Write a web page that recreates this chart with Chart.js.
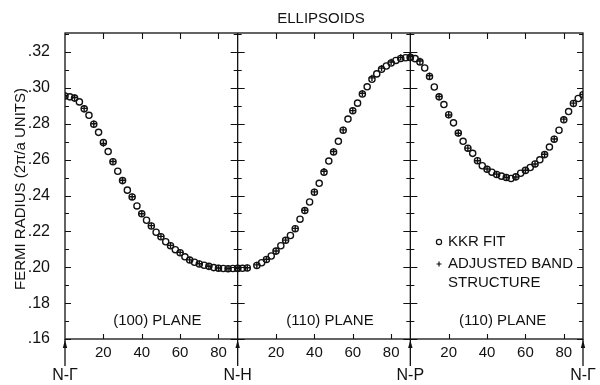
<!DOCTYPE html>
<html>
<head>
<meta charset="utf-8">
<title>Ellipsoids – Fermi radius</title>
<script src="https://cdn.jsdelivr.net/npm/chart.js@4"></script>
<style>
  html, body { margin: 0; padding: 0; background: #fff; }
  #wrap { width: 600px; height: 385px; }
</style>
</head>
<body>
<div id="wrap"><canvas id="c" width="600" height="385"></canvas></div>
<script>
// Angle (degrees) within each symmetry plane for the KKR-fit points
const kkrAngles = [0, 2.5, 5, 7.5, 10, 12.5, 15, 17.5, 20, 22.5, 25, 27.5, 30, 32.5, 35, 37.5,
  40, 42.5, 45, 47.5, 50, 52.5, 55, 57.5, 60, 62.5, 65, 67.5, 70, 72.5, 75, 77.5, 80, 82.5, 85, 87.5, 90];

// KKR fit: (100) plane, N-Γ to N-H
const kkr100 = [.2955, .2950, .2943, .2922, .2883, .2847, .2797, .2752, .2695, .2645, .2588, .2535,
  .2483, .2430, .2392, .2342, .2298, .2262, .2230, .2195, .2170, .2142, .2120, .2098, .2081, .2058,
  .2040, .2028, .2018, .2011, .2005, .1998, .1995, .1993, .1992, .1993, .1994];

// KKR fit: (110) plane, N-H to N-P (one point missing near 7.5°)
const kkr110a = [.1993, .1994, .1996, null, .2010, .2025, .2043, .2063, .2090, .2120, .2150, .2177,
  .2215, .2268, .2316, .2364, .2418, .2468, .2530, .2592, .2643, .2702, .2764, .2826, .2872, .2915,
  .2966, .3006, .3048, .3078, .3104, .3122, .3139, .3153, .3164, .3168, .3170];

// KKR fit: (110) plane, N-P to N-Γ
const kkr110b = [.3169, .3163, .3145, .3111, .3064, .3005, .2950, .2907, .2850, .2805, .2748, .2702,
  .2664, .2635, .2594, .2566, .2546, .2530, .2517, .2508, .2500, .2495, .2504, .2524, .2540, .2556,
  .2576, .2599, .2628, .2670, .2714, .2764, .2822, .2868, .2913, .2941, .2962];

// Angles for the adjusted band-structure points
const bandAngles = [0, 5, 10, 15, 20, 25, 30, 35, 40, 45, 50, 55, 60, 65, 70, 75, 80, 85, 90];
const band100 = [.2957, .2946, .2886, .2800, .2690, .2590, .2485, .2393, .2298, .2232, .2172,
  .2122, .2083, .2041, .2020, .2006, .1996, .1993, .1994];
const band110a = [.1994, .1997, .2013, .2045, .2091, .2151, .2217, .2318, .2420, .2535, .2645,
  .2766, .2873, .2970, .3056, .3110, .3144, .3170, .3177];
const band110b = [.3176, .3150, .3068, .2952, .2849, .2747, .2664, .2594, .2548, .2519, .2501,
  .2503, .2541, .2576, .2630, .2715, .2826, .2915, .2963];

// Axis annotations
const panelWidth = 90;
const xTickAngles = [20, 40, 60, 80];
const yTicks = [.16, .18, .20, .22, .24, .26, .28, .30, .32];
const symmetryPoints = ['N-Γ', 'N-H', 'N-P', 'N-Γ'];
const planeNames = ['(100) PLANE', '(110) PLANE', '(110) PLANE'];

const FONT = '"Liberation Sans", Arial, sans-serif';
const INK = '#111';

function toPoints(angles, values, panel) {
  const out = [];
  angles.forEach((a, i) => {
    if (values[i] !== null) out.push({ x: panel * panelWidth + a, y: values[i] });
  });
  return out;
}

const kkrData = [].concat(
  toPoints(kkrAngles, kkr100, 0),
  toPoints(kkrAngles, kkr110a, 1),
  toPoints(kkrAngles, kkr110b, 2)
);
const bandData = [].concat(
  toPoints(bandAngles, band100, 0),
  toPoints(bandAngles, band110a, 1),
  toPoints(bandAngles, band110b, 2)
);

// Frame, inward ticks, panel dividers, arrows and all annotation text
const decor = {
  id: 'decor',
  beforeDatasetsDraw(chart) {
    const { ctx, chartArea: a, scales: { x, y } } = chart;
    ctx.save();
    ctx.strokeStyle = INK;
    ctx.lineWidth = 1.3;
    ctx.strokeRect(a.left, a.top, a.right - a.left, a.bottom - a.top);

    ctx.lineWidth = 1.1;
    ctx.beginPath();
    // left / right inward ticks every .01
    for (let i = 16; i <= 33; i++) {
      const py = Math.round(y.getPixelForValue(i / 100)) + 0.5;
      if (py < a.top + 1) continue;
      const len = i % 2 === 0 ? 6 : 4;
      ctx.moveTo(a.left, py); ctx.lineTo(a.left + len, py);
      ctx.moveTo(a.right, py); ctx.lineTo(a.right - len, py);
      // crosses on the dividers
      for (const d of [90, 180]) {
        const px = x.getPixelForValue(d);
        const l2 = i % 2 === 0 ? 7 : 4;
        ctx.moveTo(px - l2, py); ctx.lineTo(px + l2, py);
      }
    }
    // top / bottom angle ticks
    for (let p = 0; p < 3; p++) {
      for (const t of xTickAngles) {
        const px = Math.round(x.getPixelForValue(p * panelWidth + t)) + 0.5;
        ctx.moveTo(px, a.bottom); ctx.lineTo(px, a.bottom - 5);
        ctx.moveTo(px, a.top); ctx.lineTo(px, a.top + 6);
      }
    }
    ctx.stroke();

    // dividers between the planes
    ctx.lineWidth = 1.3;
    ctx.beginPath();
    for (const d of [90, 180]) {
      const px = x.getPixelForValue(d);
      ctx.moveTo(px, a.top); ctx.lineTo(px, a.bottom);
    }
    ctx.stroke();

    // arrows marking the symmetry points
    ctx.fillStyle = INK;
    for (const d of [0, 90, 180, 270]) {
      const px = x.getPixelForValue(d);
      ctx.beginPath();
      ctx.moveTo(px, a.bottom); ctx.lineTo(px, a.bottom + 27);
      ctx.stroke();
      ctx.beginPath();
      ctx.moveTo(px, a.bottom + 1);
      ctx.lineTo(px - 2.2, a.bottom + 9);
      ctx.lineTo(px + 2.2, a.bottom + 9);
      ctx.closePath();
      ctx.fill();
    }
    ctx.restore();
  },
  afterDraw(chart) {
    const { ctx, chartArea: a, scales: { x, y } } = chart;
    ctx.save();
    ctx.fillStyle = INK;
    ctx.strokeStyle = INK;
    ctx.font = '15px ' + FONT;
    ctx.textBaseline = 'middle';

    // title
    ctx.textAlign = 'center';
    ctx.fillText('ELLIPSOIDS', 321, 19);

    // plane names
    planeNames.forEach((n, i) => {
      const cx = x.getPixelForValue(i * panelWidth + 45) + 6;
      ctx.fillText(n, cx, 321);
    });

    // symmetry point names
    ctx.font = '16px ' + FONT;
    symmetryPoints.forEach((n, i) => {
      ctx.fillText(n, x.getPixelForValue(i * panelWidth), 376);
    });

    // y axis title
    ctx.font = '15px ' + FONT;
    ctx.save();
    ctx.translate(21, 189);
    ctx.rotate(-Math.PI / 2);
    ctx.fillText('FERMI RADIUS (2π/a UNITS)', 0, 0);
    ctx.restore();

    // legend
    ctx.textAlign = 'left';
    ctx.lineWidth = 1.2;
    ctx.beginPath();
    ctx.arc(439, 242, 2.6, 0, Math.PI * 2);
    ctx.stroke();
    ctx.fillText('KKR FIT', 448, 242);
    ctx.beginPath();
    ctx.moveTo(436.5, 264); ctx.lineTo(441.5, 264);
    ctx.moveTo(439, 261.5); ctx.lineTo(439, 266.5);
    ctx.stroke();
    ctx.fillText('ADJUSTED BAND', 448, 264);
    ctx.fillText('STRUCTURE', 448, 283);
    ctx.restore();
  }
};

new Chart(document.getElementById('c'), {
  type: 'scatter',
  data: {
    datasets: [
      {
        label: 'KKR FIT',
        data: kkrData,
        pointStyle: 'circle',
        pointRadius: 3.1,
        pointBorderWidth: 1.35,
        borderColor: INK,
        backgroundColor: 'rgba(0,0,0,0)',
        pointBackgroundColor: 'rgba(0,0,0,0)',
        pointBorderColor: INK,
        showLine: false
      },
      {
        label: 'ADJUSTED BAND STRUCTURE',
        data: bandData,
        pointStyle: 'cross',
        pointRadius: 3.2,
        pointBorderWidth: 1.4,
        borderColor: INK,
        pointBorderColor: INK,
        backgroundColor: INK,
        showLine: false
      }
    ]
  },
  options: {
    responsive: false,
    animation: false,
    devicePixelRatio: 1,
    layout: { padding: { top: 33, right: 17, left: 0, bottom: 0 } },
    plugins: {
      legend: { display: false },
      title: { display: false },
      tooltip: { enabled: false }
    },
    scales: {
      x: {
        type: 'linear',
        min: 0,
        max: 270,
        grid: { display: false, drawTicks: false },
        border: { display: false },
        afterBuildTicks(scale) {
          const t = [];
          for (let p = 0; p < 3; p++) xTickAngles.forEach(v => t.push({ value: p * panelWidth + v }));
          scale.ticks = t;
        },
        afterFit(scale) { scale.height = 46; },
        ticks: {
          color: INK,
          padding: 5,
          maxRotation: 0,
          autoSkip: false,
          font: { family: FONT, size: 15 },
          callback: v => String(Math.round(v % panelWidth))
        }
      },
      y: {
        min: 0.16,
        max: 0.3306,
        grid: { display: false, drawTicks: false },
        border: { display: false },
        afterBuildTicks(scale) { scale.ticks = yTicks.map(v => ({ value: v })); },
        afterFit(scale) { scale.width = 65; },
        ticks: {
          color: INK,
          padding: 15,
          font: { family: FONT, size: 16 },
          callback: v => v.toFixed(2).replace(/^0/, '')
        }
      }
    }
  },
  plugins: [decor]
});
</script>
</body>
</html>
